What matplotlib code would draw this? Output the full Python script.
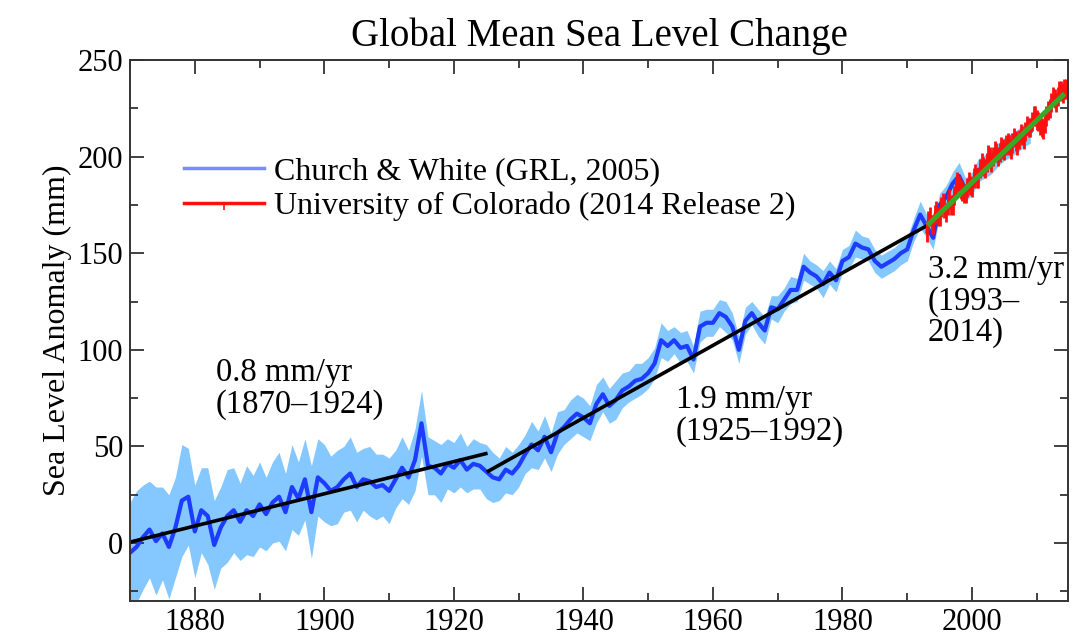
import numpy as np
import matplotlib
matplotlib.use('Agg')
import matplotlib.pyplot as plt
from matplotlib.lines import Line2D
from matplotlib.ticker import MultipleLocator

plt.rcParams['font.family'] = ['Liberation Serif', 'DejaVu Serif']

# ==== Church & White (yearly readings, mm) ====
cw_years = list(range(1870, 2010))
cw_vals = [
    -5, -2, 3, 7, 1, 5, -2, 8, 22, 24,            # 1870s
    6, 17, 14, -1, 8, 14, 17, 11, 17, 14,          # 1880s
    20, 15, 21, 24, 16, 29, 23, 33, 16, 34,        # 1890s
    31, 27, 29, 33, 36, 29, 33, 32, 29, 30,        # 1900s
    27, 33, 39, 34, 43, 62, 40, 39, 36, 41,        # 1910s
    39, 43, 38, 41, 40, 37, 34, 33, 38, 36,        # 1920s
    40, 46, 51, 48, 55, 47, 57, 60, 64, 67,        # 1930s
    65, 62, 72, 77, 71, 74, 79, 81, 84, 85,        # 1940s
    88, 93, 105, 102, 105, 101, 102, 95, 112, 114,  # 1950s
    114, 119, 117, 112, 100, 115, 119, 114, 110, 122,  # 1960s
    121, 126, 131, 131, 143, 140, 138, 134, 140, 136,  # 1970s
    146, 148, 155, 153, 152, 146, 143, 145, 147, 150,  # 1980s
    152, 162, 170, 164, 158, 175, 179, 186, 190, 183,  # 1990s
    186, 193, 195, 197, 201, 204, 206, 208, 211, 213,  # 2000s
]
# half width of the light blue uncertainty band
cw_err = [
    26, 29, 27, 25, 28, 24, 27, 26, 29, 25,
    24, 22, 25, 23, 21, 24, 22, 20, 23, 21,
    22, 19, 21, 23, 20, 22, 19, 21, 24, 20,
    20, 18, 19, 17, 19, 18, 16, 18, 17, 16,
    17, 15, 16, 14, 16, 17, 15, 14, 15, 13,
    13, 14, 12, 13, 12, 14, 13, 11, 12, 11,
    11, 10, 12, 10, 11, 10, 11, 9, 10, 10,
    10, 9, 10, 9, 9, 10, 9, 8, 9, 8,
    8, 8, 9, 8, 7, 8, 8, 7, 8, 7,
    7, 7, 8, 7, 7, 7, 6, 7, 7, 6,
    7, 6, 7, 6, 7, 6, 6, 7, 6, 6,
    6, 6, 7, 6, 6, 6, 6, 6, 6, 6,
    6, 6, 7, 6, 6, 6, 6, 6, 7, 6,
    6, 6, 6, 6, 6, 6, 6, 6, 6, 6,
]

# ==== University of Colorado altimetry (quarterly readings, mm) ====
cu_years = [1993 + 0.25 * i for i in range(87)]
cu_vals = [
    161, 167, 169, 165, 165, 170, 172, 169, 169, 174, 176, 173,
    171, 175, 178, 175, 175, 180, 184, 187, 185, 183, 182, 181,
    181, 184, 187, 185, 184, 189, 191, 189, 189, 194, 197, 195,
    194, 197, 201, 200, 197, 200, 203, 202, 200, 202, 205, 204,
    203, 206, 207, 206, 204, 207, 210, 208, 206, 209, 212, 211,
    209, 213, 216, 215, 215, 218, 221, 221, 219, 218, 216, 215,
    214, 217, 221, 224, 225, 228, 231, 230, 228, 231, 234, 234,
    233, 235, 235,
]
cu_err = [5] * 87

# ==== Linear trends (end points) ====
trend1_years = [1870, 1925.2]
trend1_vals = [0.5, 46.5]
trend2_years = [1925.1, 1993.1]
trend2_vals = [36.8, 164.4]
trend3_years = [1993.1, 2014.3]
trend3_vals = [164.4, 232.6]

fig = plt.figure(figsize=(10.73, 6.35), dpi=100)
ax = fig.add_axes([0.1212, 0.0535, 0.874, 0.852])

lo = np.array(cw_vals) - np.array(cw_err)
hi = np.array(cw_vals) + np.array(cw_err)
ax.fill_between(cw_years, lo, hi, color='#85c8ff', linewidth=0)
ax.plot(cw_years, cw_vals, color='#1d3cff', linewidth=3)

ax.plot(trend1_years, trend1_vals, color='black', linewidth=2.6, solid_capstyle='butt')
ax.plot(trend2_years, trend2_vals, color='black', linewidth=2.6, solid_capstyle='butt')

ax.errorbar(cu_years, cu_vals, yerr=cu_err, color='#ff1010', linewidth=2,
            elinewidth=2, capsize=0)
ax.plot(trend3_years, trend3_vals, color='#3aa827', linewidth=3.6, solid_capstyle='butt',
        zorder=5)

ax.set_xlim(1870, 2014.8)
ax.set_ylim(-30, 250)
ax.xaxis.set_major_locator(MultipleLocator(20))
ax.xaxis.set_minor_locator(MultipleLocator(10))
ax.yaxis.set_major_locator(MultipleLocator(50))
ax.yaxis.set_minor_locator(MultipleLocator(25))
ax.tick_params(which='both', direction='in', top=True, right=True, width=1.3,
               color='#333333', labelsize=22, pad=5)
ax.tick_params(which='major', length=10)
ax.tick_params(which='minor', length=6)
for sp in ax.spines.values():
    sp.set_linewidth(1.4)
    sp.set_color('#333333')

ax.set_title('Global Mean Sea Level Change', fontsize=28, pad=10)
ax.set_ylabel('Sea Level Anomaly (mm)', fontsize=23, labelpad=4)

ax.text(1883.2, 80, '0.8 mm/yr\n(1870\u20131924)', fontsize=23.5, va='center',
        linespacing=1.07)
ax.text(1954.3, 66, '1.9 mm/yr\n(1925\u20131992)', fontsize=23.5, va='center',
        linespacing=1.07)
ax.text(1993.2, 125, '3.2 mm/yr\n(1993\u2013\n2014)', fontsize=23.5, va='center',
        linespacing=1.03)

handles = [Line2D([], [], color='#7b8cff', linewidth=2.5),
           Line2D([], [], color='#ff1010', linewidth=2.5, marker=3, markersize=5,
                  markeredgewidth=1.2)]
leg = ax.legend(handles, ['Church & White (GRL, 2005)',
                          'University of Colorado (2014 Release 2)'],
                loc='upper left', bbox_to_anchor=(0.027, 0.875), frameon=False,
                fontsize=23, handlelength=2.5, handletextpad=0.3, labelspacing=0.19)

plt.savefig('out.png', dpi=100)
